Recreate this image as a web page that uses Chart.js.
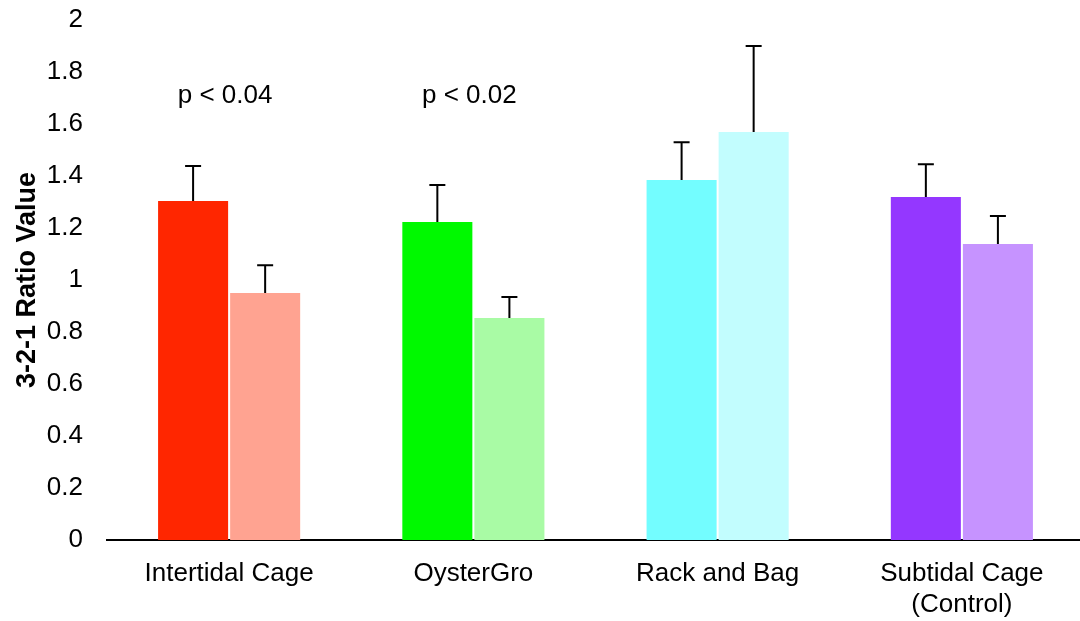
<!DOCTYPE html>
<html>
<head>
<meta charset="utf-8">
<script src="https://cdn.jsdelivr.net/npm/chart.js@4"></script>
<style>
  html, body { margin: 0; padding: 0; background: #ffffff; overflow: hidden; }
  #wrap { width: 1084px; height: 621px; position: relative; }
</style>
</head>
<body>
<div id="wrap"><canvas id="c"></canvas></div>
<script>
// Sites and their 3-2-1 ratio means with upper standard errors
const categories = ["Intertidal Cage", "OysterGro", "Rack and Bag", ["Subtidal Cage", "(Control)"]];
const firstValues = [1.304, 1.223, 1.385, 1.319];
const firstErrors = [0.134, 0.142, 0.145, 0.126];
const secondValues = [0.950, 0.854, 1.569, 1.138];
const secondErrors = [0.107, 0.081, 0.331, 0.108];
const pLabels = ["p < 0.04", "p < 0.02", "", ""];
const pLabelLevel = 1.71;
const yTicks = [0, 0.2, 0.4, 0.6, 0.8, 1, 1.2, 1.4, 1.6, 1.8, 2];

const firstColors = ["#FF2600", "#00F900", "#73FDFF", "#9437FF"];
const secondColors = ["#FFA391", "#A9FBA5", "#C2FDFE", "#C693FF"];

const FONT = "'Liberation Sans', Arial, Helvetica, sans-serif";
const FONT_SIZE = 26;

// Upper error bars with caps, plus significance labels above the groups
const errorBars = {
  id: "errorBars",
  afterDatasetsDraw(chart) {
    const ctx = chart.ctx;
    const y = chart.scales.y;
    const x = chart.scales.x;
    const errs = [firstErrors, secondErrors];
    ctx.save();
    ctx.strokeStyle = "#000000";
    ctx.lineWidth = 2;
    chart.data.datasets.forEach((ds, di) => {
      const meta = chart.getDatasetMeta(di);
      meta.data.forEach((bar, i) => {
        const v = ds.data[i];
        const top = y.getPixelForValue(v + errs[di][i]);
        const base = y.getPixelForValue(v);
        ctx.beginPath();
        ctx.moveTo(bar.x, base);
        ctx.lineTo(bar.x, top);
        ctx.moveTo(bar.x - 8, top);
        ctx.lineTo(bar.x + 8, top);
        ctx.stroke();
      });
    });
    ctx.fillStyle = "#000000";
    ctx.font = FONT_SIZE + "px " + FONT;
    ctx.textAlign = "center";
    ctx.textBaseline = "middle";
    pLabels.forEach((t, i) => {
      if (!t) return;
      ctx.fillText(t, x.getPixelForValue(i) - 4, y.getPixelForValue(pLabelLevel));
    });
    ctx.restore();
  }
};

new Chart(document.getElementById("c"), {
  type: "bar",
  data: {
    labels: categories,
    datasets: [
      { data: firstValues, backgroundColor: firstColors, borderWidth: 0 },
      { data: secondValues, backgroundColor: secondColors, borderWidth: 0 }
    ]
  },
  options: {
    responsive: true,
    maintainAspectRatio: false,
    animation: false,
    devicePixelRatio: 1,
    categoryPercentage: 0.59,
    barPercentage: 0.972,
    layout: { padding: { top: 20, right: 0, left: 0, bottom: 0 } },
    plugins: { legend: { display: false }, tooltip: { enabled: false } },
    scales: {
      x: {
        grid: { display: false, drawTicks: false },
        border: { display: true, color: "#000000", width: 2 },
        ticks: { color: "#000000", font: { family: FONT, size: FONT_SIZE, lineHeight: 1.2 }, padding: 18, maxRotation: 0, autoSkip: false },
        afterFit(scale) { scale.height = 81; }
      },
      y: {
        min: 0,
        max: 2,
        afterBuildTicks(scale) { scale.ticks = yTicks.map(v => ({ value: v })); },
        grid: { display: false, drawTicks: false },
        border: { display: false },
        ticks: { color: "#000000", font: { family: FONT, size: FONT_SIZE }, padding: 24, callback: v => String(v) },
        title: { display: true, text: "3-2-1 Ratio Value", color: "#000000", font: { family: FONT, size: 27, weight: "bold" }, padding: { top: 11, bottom: 0 } },
        afterFit(scale) {
          scale.width = 107;
          scale.paddingTop = 0;
          scale.paddingBottom = 0;
        }
      }
    }
  },
  plugins: [errorBars]
});
</script>
</body>
</html>
